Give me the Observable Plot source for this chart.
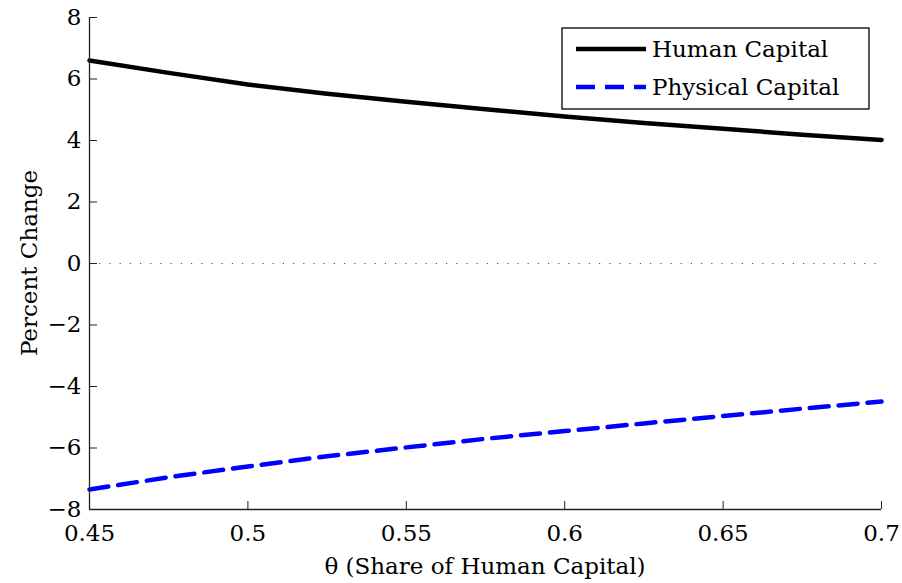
<!DOCTYPE html>
<html><head><meta charset="utf-8">
<script src="https://cdn.jsdelivr.net/npm/d3@7"></script>
<script src="https://cdn.jsdelivr.net/npm/@observablehq/plot@0.6"></script>
<style>body{margin:0;background:#fff;} svg{display:block;}</style>
</head><body><div id="chart"></div>
<script>
const theta = [0.45,0.475,0.5,0.525,0.55,0.575,0.6,0.625,0.65,0.675,0.7];
const human = [6.60,6.20,5.82,5.52,5.26,5.02,4.78,4.57,4.38,4.19,4.02];
const physical = [-7.35,-6.95,-6.60,-6.27,-5.98,-5.70,-5.45,-5.20,-4.96,-4.72,-4.49];
const xTicks = [0.45,0.5,0.55,0.6,0.65,0.7];
const xTickLabels = ["0.45","0.5","0.55","0.6","0.65","0.7"];
const yTicks = [-8,-6,-4,-2,0,2,4,6,8];
const seriesNames = ["Human Capital","Physical Capital"];

const rows = [];
theta.forEach((t,i)=>{rows.push({t, v:human[i], s:seriesNames[0]}); rows.push({t, v:physical[i], s:seriesNames[1]});});
const font = "'DejaVu Serif', serif";
const fs = "23px";

const plot = Plot.plot({
  width: 902, height: 583,
  marginLeft: 89, marginRight: 21, marginTop: 17, marginBottom: 74,
  style: {fontFamily: font, fontSize: fs, color: "#000", background: "#fff"},
  x: {domain: [0.45,0.7]},
  y: {domain: [-8,8]},
  marks: [
    Plot.ruleY([0], {stroke: "#555", strokeWidth: 1.2, strokeDasharray: "1.2,9"}),
    Plot.line(rows.filter(d=>d.s===seriesNames[0]), {x:"t", y:"v", stroke:"#000", strokeWidth:4.5}),
    Plot.line(rows.filter(d=>d.s===seriesNames[1]), {x:"t", y:"v", stroke:"#0000ff", strokeWidth:4.5, strokeDasharray:"19,10"}),
    Plot.axisX(xTicks, {tickSize: -8, tickPadding: 23, tickFormat: (d,i)=>xTickLabels[i], label: null, stroke:"#222", fontSize: 23}),
    Plot.axisY(yTicks, {tickSize: -8, tickPadding: 16, tickFormat: d => d < 0 ? "\u2212" + Math.abs(d) : String(d), label: null, stroke:"#222", fontSize: 23}),
    Plot.ruleX([0.45], {stroke:"#222", strokeWidth:1.3}),
    Plot.ruleY([-8], {stroke:"#222", strokeWidth:1.3})
  ]
});
document.getElementById("chart").appendChild(plot);

const svg = d3.select(plot);
svg.append("text").attr("x", 485).attr("y", 574).attr("text-anchor","middle")
  .style("font-family", font).style("font-size",fs).text("\u03B8 (Share of Human Capital)");
svg.append("text").attr("transform","translate(37,263) rotate(-90)").attr("text-anchor","middle")
  .style("font-family", font).style("font-size",fs).text("Percent Change");

const lg = svg.append("g");
lg.append("rect").attr("x",562).attr("y",28).attr("width",307).attr("height",81)
  .attr("fill","#fff").attr("stroke","#000").attr("stroke-width",1.3);
const styles = [{stroke:"#000", dash:null},{stroke:"#0000ff", dash:"19,10"}];
seriesNames.forEach((n,i)=>{
  const y = 49 + i*38;
  lg.append("line").attr("x1",576).attr("x2",646).attr("y1",y).attr("y2",y)
    .attr("stroke",styles[i].stroke).attr("stroke-width",4.5).attr("stroke-dasharray",styles[i].dash);
  lg.append("text").attr("x",652).attr("y",y).attr("dy","0.35em").attr("text-anchor","start")
    .style("font-family",font).style("font-size",fs).text(n);
});
</script></body></html>
